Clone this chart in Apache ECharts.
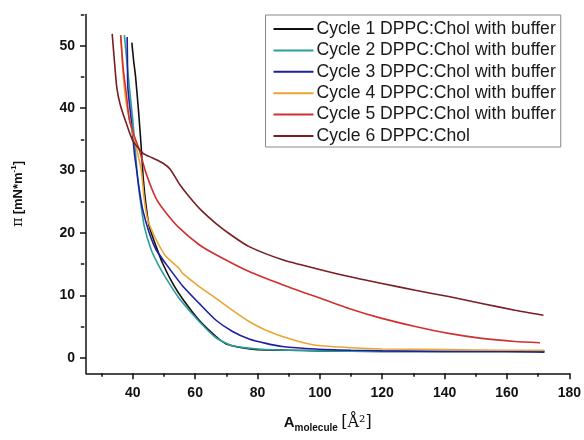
<!DOCTYPE html>
<html>
<head>
<meta charset="utf-8">
<script src="https://cdn.jsdelivr.net/npm/echarts@6/dist/echarts.min.js"></script>
<style>
html,body{margin:0;padding:0;background:#fff;}
#chart{width:584px;height:440px;}
</style>
</head>
<body>
<div id="chart"></div>
<script>
const seriesNames = [
  'Cycle 1 DPPC:Chol with buffer',
  'Cycle 2 DPPC:Chol with buffer',
  'Cycle 3 DPPC:Chol with buffer',
  'Cycle 4 DPPC:Chol with buffer',
  'Cycle 5 DPPC:Chol with buffer',
  'Cycle 6 DPPC:Chol'
];
const xTickLabels = [40, 60, 80, 100, 120, 140, 160, 180];
const xMinorTicks = [30, 50, 70, 90, 110, 130, 150, 170];
const yTickLabels = [0, 10, 20, 30, 40, 50];
const yMinorTicks = [5, 15, 25, 35, 45, 55];

const cycle1 = [[39.7,50.5],[40.3,47.5],[40.9,45],[41.9,39.2],[42.7,33.8],[43.4,28.5],[44.3,24.2],[45.3,21],[47.5,17.8],[49.6,15.1],[52.8,11.9],[56,9.4],[61.3,6.0],[66.7,3.4],[70,2.2],[75,1.6],[80,1.3],[90,1.2],[100,1.1],[120,1.0],[140,1.0],[160,1.0],[172,1.0]];
const cycle2 = [[37.3,51.7],[38.1,47.5],[38.9,43.4],[40,38.1],[40.9,32.8],[41.6,28.5],[42.7,24.2],[43.7,21],[45.9,17.3],[48.5,14.6],[51.7,11.9],[54.9,9.5],[61.3,5.8],[66.7,3.2],[72,1.9],[80,1.4],[90,1.2],[100,1.1],[120,1.0],[140,1.0],[160,1.0],[172,1.0]];
const cycle3 = [[38.2,51.4],[38.3,47.5],[38.4,43.4],[39.5,38.1],[40.5,32.8],[41.1,30.6],[42.1,26.9],[43.2,23.7],[45.3,20],[47.5,17.3],[50.7,15.0],[56,11.5],[61.3,8.7],[66.7,6.0],[72,4.2],[77.3,3.0],[82.7,2.3],[88,1.8],[98.6,1.4],[110,1.2],[120,1.1],[140,1.0],[160,1.0],[172,0.9]];
const cycle4 = [[36.2,51.6],[36.8,46.1],[37.9,40.8],[39.5,37],[41.1,33.8],[42.7,30.1],[43.7,25.3],[44.8,22.1],[47.5,18.9],[50.7,16.2],[54.9,14.3],[56,13.5],[61.3,11.4],[66.7,9.5],[72,7.6],[77.3,5.8],[82.7,4.4],[88,3.4],[93.3,2.6],[98.6,2.0],[110,1.6],[120,1.4],[140,1.3],[160,1.2],[172,1.2]];
const cycle5 = [[36.1,51.7],[37,46],[38,42],[38.9,38.1],[40.5,35.5],[42.1,33.3],[44.3,29.5],[47.5,25.5],[50.7,23.2],[54.9,20.8],[61.3,18.1],[66.7,16.5],[77.3,13.8],[88,11.7],[98.6,9.8],[109.3,7.9],[119.9,6.3],[130.6,5.0],[141.3,3.9],[151.9,3.1],[162.6,2.6],[170.6,2.4]];
const cycle6 = [[33.4,51.9],[34.2,47],[34.9,43.2],[36,40.5],[37.9,37.6],[40,34.8],[43.2,32.8],[46.4,32],[49.6,31.2],[52,30.2],[55,27.8],[58.1,25.8],[62,23.6],[66.7,21.5],[72,19.5],[77.3,17.8],[88,15.7],[98.6,14.3],[109.3,13.0],[119.9,11.9],[130.6,10.8],[141.3,9.8],[151.9,8.7],[162.6,7.6],[171.7,6.8]];

const seriesData = [cycle1, cycle2, cycle3, cycle4, cycle5, cycle6];
const colors = ['#111111', '#2a9e9c', '#1e1ea0', '#eda532', '#d03030', '#7a1e22'];

const GRID_L = 86, GRID_R = 13, GRID_T = 14.5, GRID_B = 66.7;
const plotW = 584 - GRID_L - GRID_R;
const plotH = 440 - GRID_T - GRID_B;

const chart = echarts.init(document.getElementById('chart'), null, {renderer: 'canvas'});
const axisFont = {fontFamily: 'Liberation Sans, Arial', fontWeight: 'bold', fontSize: 14, color: '#111'};

const option = {
  animation: false,
  backgroundColor: '#fff',
  grid: {left: GRID_L, right: GRID_R, top: GRID_T, bottom: GRID_B, containLabel: false},
  legend: {
    orient: 'vertical',
    left: 265.5, top: 15,
    padding: [5, 5, 2, 8],
    borderColor: '#888', borderWidth: 1,
    backgroundColor: '#fff',
    itemWidth: 40, itemHeight: 2, itemGap: 3.4,
    icon: 'rect',
    textStyle: {fontFamily: 'Liberation Sans, Arial', fontSize: 17.6, lineHeight: 18, color: '#1a1a1a', padding: [0, 0, 0, -2]},
    data: seriesNames
  },
  xAxis: [{
    type: 'value', min: 25, max: 180,
    position: 'bottom',
    axisLine: {show: true, onZero: false, lineStyle: {color: '#111', width: 1.5}},
    axisTick: {show: true, length: 6, lineStyle: {color: '#111', width: 1.5}, customValues: xTickLabels},
    axisLabel: Object.assign({margin: 13, customValues: xTickLabels}, axisFont),
    splitLine: {show: false},
    name: '{a|A}{s|molecule} {b|[Å²]}',
    nameLocation: 'middle', nameGap: 40,
    nameTextStyle: {
      rich: {
        a: {fontFamily: 'Liberation Sans, Arial', fontWeight: 'bold', fontSize: 15, color: '#111'},
        s: {fontFamily: 'Liberation Sans, Arial', fontWeight: 'bold', fontSize: 10, color: '#111', padding: [10, 0, 0, 0]},
        b: {fontFamily: 'DejaVu Serif, Liberation Serif', fontSize: 16, color: '#111'}
      }
    }
  }, {
    type: 'value', min: 25, max: 180,
    position: 'top', offset: -plotH,
    axisLine: {show: false, onZero: false},
    axisTick: {show: true, inside: true, length: 3.5, lineStyle: {color: '#111', width: 1.5}, customValues: xMinorTicks},
    axisLabel: {show: false},
    splitLine: {show: false}
  }],
  yAxis: [{
    type: 'value', min: -2.5, max: 55,
    position: 'left',
    axisLine: {show: true, onZero: false, lineStyle: {color: '#111', width: 1.5}},
    axisTick: {show: true, length: 6, lineStyle: {color: '#111', width: 1.5}, customValues: yTickLabels},
    axisLabel: Object.assign({margin: 11, customValues: yTickLabels}, axisFont),
    splitLine: {show: false},
    name: '{p|π} {b|[mN*m}{sup|-1}{b|]}',
    nameLocation: 'middle', nameRotate: 90, nameGap: 60,
    nameTextStyle: {
      rich: {
        p: {fontFamily: 'DejaVu Serif, Liberation Serif', fontSize: 14, color: '#111'},
        b: {fontFamily: 'Liberation Sans, Arial', fontWeight: 'bold', fontSize: 13, color: '#111'},
        sup: {fontFamily: 'Liberation Sans, Arial', fontWeight: 'bold', fontSize: 8, color: '#111', padding: [0, 0, 8, 0]}
      }
    }
  }, {
    type: 'value', min: -2.5, max: 55,
    position: 'right', offset: -plotW,
    axisLine: {show: false, onZero: false},
    axisTick: {show: true, inside: true, length: 3.5, lineStyle: {color: '#111', width: 1.5}, customValues: yMinorTicks},
    axisLabel: {show: false},
    splitLine: {show: false}
  }],
  series: seriesNames.map((n, i) => ({
    name: n,
    type: 'line',
    data: seriesData[i],
    showSymbol: false,
    smooth: 0.2,
    color: colors[i],
    lineStyle: {width: 1.6, color: colors[i]},
    xAxisIndex: 0, yAxisIndex: 0
  }))
};
chart.setOption(option);
</script>
</body>
</html>
